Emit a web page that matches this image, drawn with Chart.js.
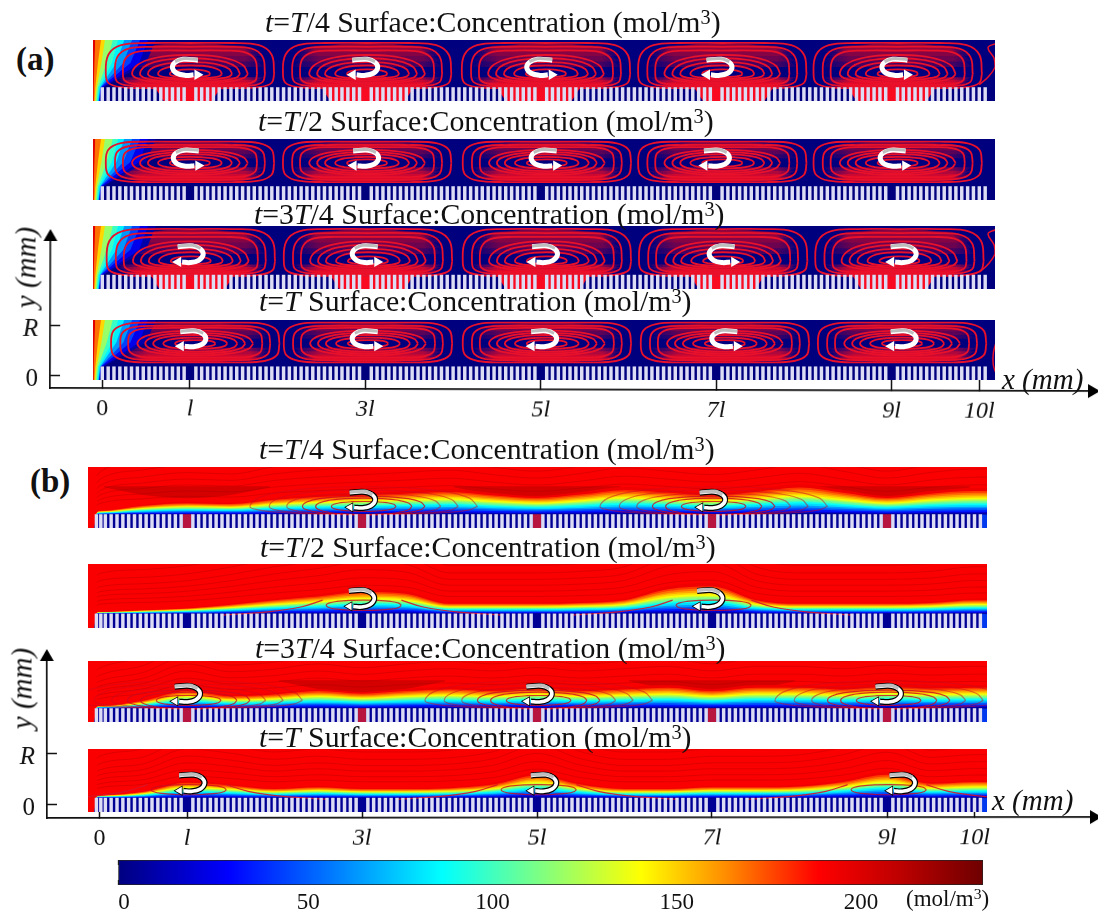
<!DOCTYPE html>
<html><head><meta charset="utf-8">
<script src="https://cdn.jsdelivr.net/npm/chart.js@4"></script>
<style>
html,body{margin:0;padding:0;background:#fff;width:1098px;height:913px;overflow:hidden}
canvas{position:absolute}
.t{position:absolute;font-family:"Liberation Serif",serif;color:#111;white-space:nowrap;line-height:1;z-index:5}
.t sup{font-size:68%;line-height:0;vertical-align:baseline;position:relative;top:-.42em}
.panel{filter:blur(.45px);z-index:2}
</style></head><body>
<script>
/* ---------- axes ---------- */
const xTickValues=[0,1,3,5,7,9,10];
const xTickLabels=['0','l','3l','5l','7l','9l','10l'];
const yTickValues=[0,1];
const yTickLabels=['0','R'];
const barTickValues=[0,50,100,150,200];
const barMax=234.7;
/* ---------- colour bar, value -> colour ---------- */
const barStopValues=[0,30,60,88,115,142,165,190,212,234.7];
const barStopColors=[[0,0,128],[0,0,255],[0,130,255],[0,255,255],[128,255,128],[255,255,0],[255,140,0],[255,0,0],[190,0,0],[110,0,0]];
/* ---------- grooves at the wall (l units) ---------- */
const toothOffsetsEven=[.067,.133,.2,.267,.333,.4,.467,.533,.6,.667,.733,.8,.867,.933];
const toothOffsetsOdd=[.067,.133,.2,.267,.333,.4,.467,.533,.6,.667,.733,.8,.867,.933,1];
const toothUnits=[0,1,2,3,4,5,6,7,8,9,10];
const firstTeethA=[0];
const firstTeethB=[-.035,.015];
const toothTop=.167;
const redGroovePositions=[1,3,5,7,9];
/* ---------- group (a): left concentration wedge ---------- */
const wedgeValues=[10,25,45,65,85,100,120,150,170,200];
const wedgeXBottom=[-.02,-.03,-.035,-.04,-.045,-.055,-.065,-.08,-.09,-.1];
const wedgeXTooth=[.01,0,-.015,-.02,-.026,-.04,-.05,-.065,-.08,-.095];
const wedgeXMiddle=[.5,.42,.32,.24,.16,.11,.05,-.01,-.05,-.09];
const wedgeXTop=[.61,.52,.43,.34,.25,.18,.12,.03,-.015,-.08];
/* ---------- group (a): vortex rings ---------- */
const ringHalfWidth=[.96,.855,.765,.66,.57,.48,.365,.23];
const ringUpLow=[.57,.5,.43,.35,.29,.22,.16,.085];
const ringDownLow=[.26,.23,.2,.175,.15,.11,.085,.055];
const ringUpHigh=[.39,.33,.29,.24,.2,.16,.11,.065];
const ringDownHigh=[.35,.31,.26,.22,.185,.15,.1,.065];
const squareRing=[[1,0],[.97,.62],[.82,.93],[.5,1],[0,1],[-.5,1],[-.82,.93],[-.97,.62],[-1,0],[-.97,-.62],[-.82,-.93],[-.5,-1],[0,-1],[.5,-1],[.82,-.93],[.97,-.62],[1,0]];
const ovalRing=[[1,0],[.93,.42],[.72,.75],[.38,.95],[0,1],[-.38,.95],[-.72,.75],[-.93,.42],[-1,0],[-.93,-.42],[-.72,-.75],[-.38,-.95],[0,-1],[.38,-.95],[.72,-.75],[.93,-.42],[1,0]];
const a1Cells=[1,3.02,5.06,7.07,9.07];
const a2Cells=[1,3.02,5.07,7.07,9.07];
const a3Cells=[1.01,3.03,5.07,7.08,9.09];
const a4Cells=[1.06,3.03,5.07,7.1,9.12];
const a1RedSpans=[[.6,1.35],[2.5,3.55],[4.5,5.45],[6.75,7.65],[8.5,9.5]];
const a3RedSpans=[[.55,1.5],[2.6,3.55],[4.5,5.55],[6.7,7.55],[8.55,9.5]];
const a3EdgeCurve=[[10.2,.98],[10.1,.9],[10.17,.7],[10.18,.55],[10.1,.36],[10,.22]];
const a4EdgeCurve=[[10.19,.62],[10.16,.42],[10.16,.2],[10.19,.05]];
const washDx=[-.85,-.6,-.3,0,.3,.6,.85];
const washRise=[0,.8,.97,1,.97,.8,0];
const washDepths=[.25,.45,.65,.8];
/* ---------- curved flow arrows ---------- */
const arrowPath=[[.14,.14],[-.03,.155],[-.12,.1],[-.15,.0],[-.1,-.1],[.0,-.14],[.09,-.13]];
const a1Arrows=[[.95,1],[2.99,-1],[4.99,1],[7.03,-1],[9.04,1]];
const a2Arrows=[[.96,1],[3,-1],[5.04,1],[7,-1],[9.02,1]];
const a3Arrows=[[1,-1],[3,1],[5.04,-1],[7.07,1],[9.13,-1]];
const a4Arrows=[[1.03,-1],[3,1],[5.03,-1],[7.1,1],[9.13,-1]];
const arrowYLow=.53, arrowYHigh=.68;
const b1Arrows=[[3,-1],[7,-1]];
const b2Arrows=[[2.99,-1],[6.97,-1]];
const b3Arrows=[[1,-1],[5.02,-1],[9.01,-1]];
const b4Arrows=[[1.05,-1],[5.07,-1],[9.17,-1]];
/* ---------- group (b): depletion front (height above the wall, R units) ---------- */
const frontX=[-.14,-.07,-.03,0,.5,1,1.5,2,2.5,3,3.5,4,4.5,5,5.5,6,6.5,7,7.5,8,8.5,9,9.5,10,10.2];
const b1Front=[-3,-3,.02,.04,.1,.13,.12,.17,.2,.22,.24,.26,.22,.19,.23,.28,.25,.22,.26,.31,.25,.19,.24,.27,.27];
const b2Front=[-3,-3,.01,.02,.04,.06,.1,.15,.19,.24,.22,.11,.11,.11,.12,.15,.27,.3,.15,.11,.11,.11,.12,.15,.15];
const b3Front=[-3,-3,.02,.03,.09,.2,.14,.16,.2,.17,.2,.22,.2,.23,.2,.22,.24,.2,.24,.24,.22,.25,.23,.24,.24];
const b4Front=[-3,-3,.02,.03,.07,.17,.14,.1,.12,.1,.1,.11,.15,.25,.15,.1,.1,.12,.12,.13,.18,.26,.16,.18,.18];
const bandValues=[195,180,170,160,150,140,130,120,110,100,90,80,65,50,35,20,5];
const bandFractions=[1.8,1.6,1.48,1.36,1.25,1.15,1.05,.98,.9,.8,.74,.65,.53,.42,.3,.18,.09];
const streamFractions=[1.5,1.8,2.1,2.4,2.7,3,3.4];
const streamLifts=[.14,.2,.27,.34,.42,.52,.64];
const bRingWide=[.37,.55,.7,.88,1.08,1.3];
const bRingHigh=[.09,.15,.19,.24,.3,.36];
const bRingNarrow=[.43];
const bRingNarrowHigh=[.09];
const slopeArc=[[.45,.24],[.7,.12],[1.1,.03],[1.6,-.02]];
const bRingCentreHeight=.15;
const b1Lenses=[1,5,9];
const b3Lenses=[3,7];
const lensDx=[-.95,-.5,0,.5,.95];
const lensLow=[.5,.36,.3,.36,.5];
const lensTop=.52;
const rightCornerX=[10.075,10.2];

const FONT='"Liberation Serif",serif';
const yMin=-.08,yMax=1.04;

function colorAt(v){
  for(let i=1;i<barStopValues.length;i++){
    if(v<=barStopValues[i]){
      const a=barStopValues[i-1],b=barStopValues[i],f=(v-a)/(b-a);
      const c=barStopColors[i-1].map((q,k)=>Math.round(q+(barStopColors[i][k]-q)*f));
      return `rgb(${c[0]},${c[1]},${c[2]})`;
    }
  }
  return 'rgb(110,0,0)';
}
function area(data,color,fill,mode){return {type:'line',data,borderWidth:0,pointRadius:0,backgroundColor:color,fill,tension:0,cubicInterpolationMode:mode||'default'};}
function stroke(data,color,w,tension){return {type:'line',data,borderColor:color,borderWidth:w,pointRadius:0,fill:false,tension:tension==null?.4:tension};}
function teethData(first){
  const out=first.map(x=>({x,y:[yMin,toothTop]}));
  toothUnits.forEach(u=>{
    if(u===10){out.push({x:10.067,y:[yMin,toothTop]});return;}
    (u%2===0?toothOffsetsEven:toothOffsetsOdd).forEach(o=>out.push({x:u+o,y:[yMin,toothTop]}));
  });
  return out;
}
function arrowSets(list,yc,outlined){
  const sets=[];
  list.forEach(([cx,dir])=>{
    const pts=arrowPath.map(([dx,dy])=>({x:cx+dir*dx,y:yc+dy}));
    const tip={x:cx+dir*.135,y:yc-.128};
    if(outlined){
      sets.push(stroke(pts,'#000',6,.4));
      sets.push({type:'line',data:[tip],pointStyle:'triangle',pointRadius:6,pointRotation:dir>0?90:270,pointBackgroundColor:'#000',pointBorderWidth:0,showLine:false});
    }
    sets.push(stroke(pts,'#fff',outlined?3.6:5,.4));
    sets.push({type:'line',data:[tip],pointStyle:'triangle',pointRadius:outlined?4.5:6,pointRotation:dir>0?90:270,pointBackgroundColor:'#fff',pointBorderWidth:0,showLine:false});
    sets.push(stroke(pts.slice(0,3).map(p=>({x:p.x,y:p.y+.012})),'#bdbdbd',outlined?3.4:3,.4));
  });
  return sets;
}
function makePanel(id,box,xr,datasets){
  const c=document.createElement('canvas');
  c.id=id;c.className='panel';c.width=box.w;c.height=box.h;
  c.style.left=box.x+'px';c.style.top=box.y+'px';
  document.body.appendChild(c);
  datasets.forEach((d,i)=>{d.order=datasets.length-i;});
  new Chart(c,{type:'line',data:{datasets},options:{
    responsive:false,animation:false,events:[],devicePixelRatio:1,
    layout:{padding:0,autoPadding:false},
    plugins:{legend:{display:false},tooltip:{enabled:false},title:{display:false}},
    scales:{
      x:{type:'linear',display:false,offset:false,min:(box.x-xr.x0)/xr.u,max:(box.x+box.w-xr.x0)/xr.u},
      y:{type:'linear',display:false,min:yMin,max:yMax}
    }
  }});
}
const xA={x0:102.3,u:87.7},xB={x0:99.5,u:87.5};

function washGradient(cx,rgb,alpha){
  return ctx=>{
    const s=ctx.chart.scales.x;
    if(!s) return 'transparent';
    const p0=s.getPixelForValue(cx-.9),p1=s.getPixelForValue(cx+.9);
    if(!isFinite(p0)||!isFinite(p1)) return 'transparent';
    const g=ctx.chart.ctx.createLinearGradient(p0,0,p1,0);
    g.addColorStop(0,`rgba(${rgb},0)`);
    g.addColorStop(.2,`rgba(${rgb},${alpha})`);
    g.addColorStop(.85,`rgba(${rgb},${alpha})`);
    g.addColorStop(1,`rgba(${rgb},0)`);
    return g;
  };
}
function panelA(id,top,height,cells,arrows,spans,low,edge){
  const xMin=(93-xA.x0)/xA.u,xMax=(995-xA.x0)/xA.u;
  const yc=low?.415:.6;
  const up=low?ringUpLow:ringUpHigh,down=low?ringDownLow:ringDownHigh;
  const ds=[];
  ds.push(area([{x:xMin,y:yMax},{x:xMax,y:yMax}],'#00007f','start'));
  // tint behind the dense upper and lower streamlines
  cells.forEach(cx=>{
    washDepths.forEach(k=>{
      const b1=yc+up[0]*k*.9, b2=yc-down[0]*k*.9;
      ds.push(area(washDx.map((d,i)=>({x:cx+d,y:b1+(yc+up[0]*.97-b1)*washRise[i]})),washGradient(cx,'175,5,50',low?.38:.3),{value:b1}));
      ds.push(area(washDx.map((d,i)=>({x:cx+d,y:b2-(b2-yc+down[0]*.97)*washRise[i]})),washGradient(cx,'240,10,35',low?.6:.48),{value:b2}));
    });
  });
  // concentration wedge at the inlet
  wedgeValues.forEach((v,i)=>{
    ds.push(area([{x:xMin,y:yMin},{x:wedgeXBottom[i],y:yMin},{x:wedgeXTooth[i],y:toothTop},{x:wedgeXMiddle[i],y:.62},{x:wedgeXTop[i],y:yMax}],colorAt(v),'end'));
  });
  // red ingress into the grooves
  spans.forEach(([s,e])=>{
    ds.push(area([{x:s,y:toothTop},{x:s+.1,y:yMin},{x:e-.1,y:yMin},{x:e,y:toothTop}],'#fa0a20',{value:.235}));
  });
  // rings
  cells.forEach(cx=>{
    ringHalfWidth.forEach((w,i)=>{
      const shape=i<3?squareRing:ovalRing;
      ds.push(stroke(shape.map(([a,b])=>({x:cx+a*w,y:yc+(b>0?b*up[i]:b*down[i])})),'#e8102a',1.8,.4));
    });
  });
  if(edge) ds.push(stroke(edge.map(([x,y])=>({x,y})),'#e8102a',1.5));
  ds.push({type:'bar',data:teethData(firstTeethA),backgroundColor:'#dcdcf5',barThickness:2.8,grouped:false});
  ds.push(...arrowSets(arrows,low?arrowYLow:arrowYHigh,false));
  makePanel(id,{x:93,y:top,w:902,h:height},xA,ds);
}
function panelB(id,top,height,front,arrows,wide,redGrooves,lenses){
  const xMin=(88-xB.x0)/xB.u,xMax=(987-xB.x0)/xB.u;
  const ds=[];
  ds.push(area([{x:xMin,y:yMax},{x:xMax,y:yMax}],'#fb0000','start'));
  lenses.forEach(c=>{
    ds.push(area(lensDx.map((d,i)=>({x:c+d,y:toothTop+lensLow[i]})),'rgba(175,0,0,.5)',{value:toothTop+lensTop},'monotone'));
  });
  streamFractions.forEach((f,i)=>{
    ds.push({...stroke(frontX.slice(2).map((x,k)=>({x,y:toothTop+front[k+2]*f+streamLifts[i]})),'rgba(160,0,0,.3)',1),cubicInterpolationMode:'monotone'});
  });
  bandValues.forEach((v,i)=>{
    ds.push(area(frontX.map((x,k)=>({x,y:toothTop+front[k]*bandFractions[i]})),colorAt(v),'start','monotone'));
  });
  // blue corner past the last groove
  ds.push(area(rightCornerX.map(x=>({x,y:toothTop})),'#0038f0','start'));
  // vortex rings over the band
  arrows.forEach(([cx])=>{
    const c=Math.round(cx);
    const ws=wide?bRingWide:bRingNarrow,hs=wide?bRingHigh:bRingNarrowHigh;
    ws.forEach((w,i)=>{
      ds.push(stroke(ovalRing.map(([a,b])=>({x:c+.02+a*w,y:toothTop+bRingCentreHeight+(b>0?b*hs[i]:b*Math.min(hs[i],.15))})),i<3?'rgba(205,10,30,.8)':'rgba(205,10,30,.5)',1.2));
    });
    if(!wide){
      ds.push(stroke(slopeArc.map(([d,h])=>({x:c+d,y:toothTop+h})),'rgba(215,20,40,.9)',1.2));
      ds.push(stroke(slopeArc.map(([d,h])=>({x:c-d,y:toothTop+h})),'rgba(215,20,40,.9)',1.2));
    }
  });
  if(redGrooves) ds.push({type:'bar',data:redGroovePositions.map(x=>({x,y:[yMin,toothTop]})),backgroundColor:'#b81440',barThickness:8,grouped:false});
  ds.push({type:'bar',data:teethData(firstTeethB),backgroundColor:'#dcdcf5',barThickness:2.8,grouped:false});
  ds.push(...arrowSets(arrows,toothTop+.26,true));
  makePanel(id,{x:88,y:top,w:899,h:height},xB,ds);
}

function frame(id,top,height,f){
  const c=document.createElement('canvas');
  c.id=id;c.width=1098;c.height=height;c.style.left='0px';c.style.top=top+'px';c.style.zIndex=1;
  if(f.rotate){c.style.transformOrigin=`${f.left}px ${f.axisY-top}px`;c.style.transform=`rotate(${f.rotate}deg)`;}
  document.body.appendChild(c);
  const xmin=(f.left-f.x0)/f.u,xmax=(f.right-f.x0)/f.u;
  const ymin=-(f.axisY-f.y0)/f.r,ymax=(f.y0-f.tip)/f.r;
  new Chart(c,{type:'line',data:{datasets:[
    {data:[{x:xmax,y:ymin}],pointStyle:'triangle',pointRadius:8,pointRotation:90,pointBackgroundColor:'#000',pointBorderWidth:0,showLine:false,clip:false},
    {data:[{x:xmin,y:ymax}],pointStyle:'triangle',pointRadius:8,pointRotation:0,pointBackgroundColor:'#000',pointBorderWidth:0,showLine:false,clip:false}
  ]},options:{
    responsive:false,animation:false,events:[],devicePixelRatio:1,
    layout:{padding:{top:f.tip-top,right:1098-f.right,left:0,bottom:0},autoPadding:false},
    plugins:{legend:{display:false},tooltip:{enabled:false}},
    scales:{
      x:{type:'linear',min:xmin,max:xmax,position:'bottom',
        afterFit:s=>{s.height=top+height-f.axisY;},
        afterBuildTicks:s=>{s.ticks=xTickValues.map(v=>({value:v}));},
        grid:{drawOnChartArea:false,tickLength:-12,tickWidth:1.5,tickColor:'#111'},
        border:{color:'#111',width:1.7},
        ticks:{autoSkip:false,maxRotation:0,minRotation:0,padding:18,color:'#111',
          callback:v=>xTickLabels[xTickValues.indexOf(v)],
          font:ctx=>({family:FONT,size:24,style:ctx.index===0?'normal':'italic'})}
      },
      y:{type:'linear',min:ymin,max:ymax,position:'left',
        afterFit:s=>{s.width=f.left;},
        afterBuildTicks:s=>{s.ticks=yTickValues.map(v=>({value:v}));},
        grid:{drawOnChartArea:false,tickLength:-10,tickWidth:1.5,tickColor:'#111'},
        border:{color:'#111',width:1.7},
        ticks:{autoSkip:false,padding:22,color:'#111',labelOffset:4,
          callback:v=>yTickLabels[yTickValues.indexOf(v)],
          font:ctx=>({family:FONT,size:25,style:ctx.index===0?'normal':'italic'})}
      }
    }
  }});
}

function colorBar(){
  const c=document.createElement('canvas');
  c.id='colorbar';c.width=1098;c.height=73;c.style.left='0px';c.style.top='840px';c.style.zIndex=1;
  document.body.appendChild(c);
  new Chart(c,{type:'bar',data:{labels:['c'],datasets:[{
    data:[[0,barMax]],barPercentage:1,categoryPercentage:1,borderWidth:1,borderColor:'#222',borderSkipped:false,
    backgroundColor:ctx=>{
      const ch=ctx.chart,s=ch.scales.x;
      if(!s||!ch.chartArea) return '#00f';
      const g=ch.ctx.createLinearGradient(s.getPixelForValue(0),0,s.getPixelForValue(barMax),0);
      barStopValues.forEach((v,i)=>{const q=barStopColors[i];g.addColorStop(v/barMax,`rgb(${q[0]},${q[1]},${q[2]})`);});
      return g;
    }
  }]},options:{
    indexAxis:'y',responsive:false,animation:false,events:[],devicePixelRatio:1,
    layout:{padding:{left:118,right:115,top:20,bottom:0},autoPadding:false},
    plugins:{legend:{display:false},tooltip:{enabled:false}},
    scales:{
      y:{display:false,offset:true},
      x:{type:'linear',min:0,max:barMax,position:'bottom',z:2,
        afterFit:s=>{s.height=28;},
        afterBuildTicks:s=>{s.ticks=barTickValues.map(v=>({value:v}));},
        grid:{drawOnChartArea:false,tickLength:-5,tickWidth:1.3,tickColor:'#111'},
        border:{display:false},
        ticks:{autoSkip:false,maxRotation:0,minRotation:0,padding:9,labelOffset:6,color:'#111',font:{family:FONT,size:23}}
      },
      x2:{type:'linear',axis:'x',min:0,max:barMax,position:'top',z:2,
        afterFit:s=>{s.height=0;},
        afterBuildTicks:s=>{s.ticks=barTickValues.map(v=>({value:v}));},
        grid:{drawOnChartArea:false,tickLength:-5,tickWidth:1.3,tickColor:'#111'},
        border:{display:false},
        ticks:{display:false}
      }
    }
  }});
}

function text(html,x,y,size,extra){
  const d=document.createElement('div');
  d.className='t';d.innerHTML=html;d.style.left=x+'px';d.style.top=y+'px';d.style.fontSize=size+'px';
  if(extra) d.style.cssText+=extra;
  document.body.appendChild(d);
}
const surf=' Surface:Concentration (mol/m<sup>3</sup>)';

frame('frameA',200,225,{left:50,right:1092,axisY:390,tip:226,x0:102.3,u:87.7,y0:376,r:54,rotate:.17});
frame('frameB',620,235,{left:47,right:1094,axisY:822,tip:643,x0:99.5,u:87.5,y0:807,r:57,rotate:-.05});
colorBar();

panelA('a1',40,61,a1Cells,a1Arrows,a1RedSpans,true,a3EdgeCurve);
panelA('a2',139,61,a2Cells,a2Arrows,[],false,null);
panelA('a3',226,63,a3Cells,a3Arrows,a3RedSpans,true,a3EdgeCurve);
panelA('a4',320,60,a4Cells,a4Arrows,[],false,a4EdgeCurve);
panelB('b1',467,61,b1Front,b1Arrows,true,true,b1Lenses);
panelB('b2',564,64,b2Front,b2Arrows,false,false,[]);
panelB('b3',661,61,b3Front,b3Arrows,true,true,b3Lenses);
panelB('b4',749,63,b4Front,b4Arrows,false,false,[]);

const TS=29.8;
text('<i>t</i>=<i>T</i>/4'+surf,265,7,TS);
text('<i>t</i>=<i>T</i>/2'+surf,258,106,TS);
text('<i>t</i>=3<i>T</i>/4'+surf,254,199,TS);
text('<i>t</i>=<i>T</i>'+surf,259,286,TS);
text('<i>t</i>=<i>T</i>/4'+surf,259,434,TS);
text('<i>t</i>=<i>T</i>/2'+surf,260,532,TS);
text('<i>t</i>=3<i>T</i>/4'+surf,255,633,TS);
text('<i>t</i>=<i>T</i>'+surf,259,722,TS);
text('<b>(a)</b>',16,43,33);
text('<b>(b)</b>',30,465,33);
text('<i>y (mm)</i>',-19,253,29,'transform:rotate(-90deg);width:90px;text-align:center;');
text('<i>y (mm)</i>',-23,674,29,'transform:rotate(-90deg);width:90px;text-align:center;');
text('<i>x (mm)</i>',1002,365,29);
text('<i>x (mm)</i>',992,786,29);
text('(mol/m<sup>3</sup>)',906,887,23);
</script>
</body></html>
